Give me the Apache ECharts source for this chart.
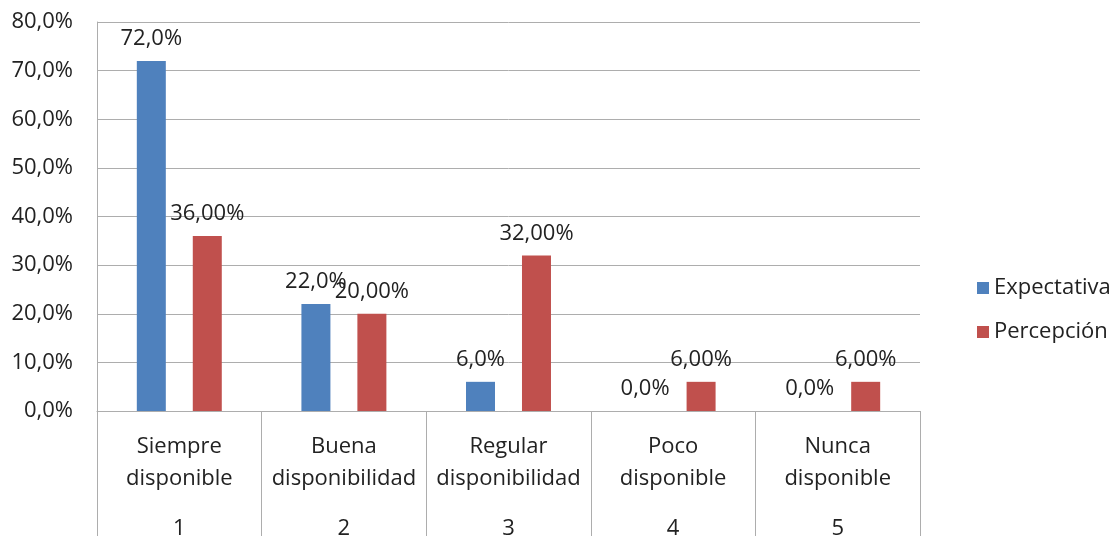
<!DOCTYPE html>
<html>
<head>
<meta charset="utf-8">
<script src="https://cdn.jsdelivr.net/npm/echarts@6/dist/echarts.min.js"></script>
<style>
html,body{margin:0;padding:0;background:#fff;}
#c{width:1120px;height:536px;}
</style>
</head>
<body>
<div id="c"></div>
<script>
const categories = ["Siempre\ndisponible", "Buena\ndisponibilidad", "Regular\ndisponibilidad", "Poco\ndisponible", "Nunca\ndisponible"];
const levelNumbers = ["1", "2", "3", "4", "5"];
const expectativa = [72.0, 22.0, 6.0, 0.0, 0.0];
const percepcion = [36.0, 20.0, 32.0, 6.0, 6.0];
const seriesNames = ["Expectativa", "Percepción"];

const FONT = "Open Sans";
const TXT = "#222";
const GRID = "#adadad";
const FS = 22;

const chart = echarts.init(document.getElementById('c'), null, {renderer: 'canvas'});
chart.setOption({
  animation: false,
  textStyle: {fontFamily: FONT},
  grid: {left: 97, right: 200, top: 22, bottom: 125, containLabel: false, outerBoundsMode: 'none'},
  legend: {
    orient: 'vertical',
    left: 972,
    top: 272,
    itemWidth: 12,
    itemHeight: 12,
    itemGap: 22,
    icon: 'rect',
    data: seriesNames,
    textStyle: {fontFamily: FONT, fontSize: FS, color: TXT, lineHeight: 22}
  },
  xAxis: [
    {
      type: 'category',
      data: categories,
      position: 'bottom',
      axisLine: {show: true, lineStyle: {color: GRID, width: 1}},
      axisTick: {show: true, interval: 0, length: 125, alignWithLabel: false, lineStyle: {color: GRID, width: 1}},
      axisLabel: {interval: 0, margin: 20, fontFamily: FONT, fontSize: FS, lineHeight: 32, color: TXT},
      splitLine: {show: false}
    },
    {
      type: 'category',
      data: levelNumbers,
      position: 'bottom',
      axisLine: {show: false},
      axisTick: {show: false},
      axisLabel: {interval: 0, margin: 102, fontFamily: FONT, fontSize: FS, lineHeight: 32, color: TXT},
      splitLine: {show: false}
    }
  ],
  yAxis: {
    type: 'value',
    min: 0,
    max: 80,
    interval: 10,
    axisLine: {show: true, lineStyle: {color: GRID, width: 1}},
    axisTick: {show: false},
    splitLine: {show: true, lineStyle: {color: GRID, width: 1}},
    axisLabel: {
      margin: 24,
      fontFamily: FONT, fontSize: FS, color: TXT,
      formatter: v => v.toFixed(1).replace('.', ',') + '%'
    }
  },
  series: [
    {
      name: seriesNames[0],
      type: 'bar',
      xAxisIndex: 0,
      data: expectativa,
      barWidth: 29,
      barGap: '93%',
      itemStyle: {color: '#4F81BD'},
      label: {
        show: true, position: 'top', distance: 11,
        fontFamily: FONT, fontSize: FS, color: TXT,
        formatter: p => p.value.toFixed(1).replace('.', ',') + '%'
      }
    },
    {
      name: seriesNames[1],
      type: 'bar',
      xAxisIndex: 0,
      data: percepcion,
      barWidth: 29,
      barGap: '93%',
      itemStyle: {color: '#C0504D'},
      label: {
        show: true, position: 'top', distance: 11,
        fontFamily: FONT, fontSize: FS, color: TXT,
        formatter: p => p.value.toFixed(2).replace('.', ',') + '%'
      }
    }
  ]
});
</script>
</body>
</html>
